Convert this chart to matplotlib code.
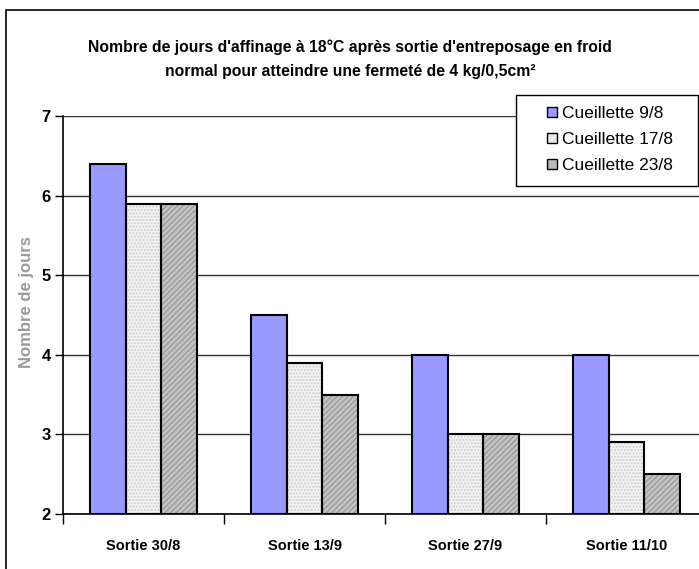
import matplotlib
matplotlib.use("Agg")
import matplotlib.pyplot as plt
import numpy as np
from matplotlib.patches import Rectangle
from matplotlib.lines import Line2D

plt.rcParams['font.family'] = ['Liberation Sans', 'DejaVu Sans']

categories = ["Sortie 30/8", "Sortie 13/9", "Sortie 27/9", "Sortie 11/10"]
series_names = ["Cueillette 9/8", "Cueillette 17/8", "Cueillette 23/8"]
cueillette_9_8 = [6.4, 4.5, 4.0, 4.0]
cueillette_17_8 = [5.9, 3.9, 3.0, 2.9]
cueillette_23_8 = [5.9, 3.5, 3.0, 2.5]
y_ticks = [2, 3, 4, 5, 6, 7]
title = "Nombre de jours d'affinage à 18°C après sortie d'entreposage en froid\nnormal pour atteindre une fermeté de 4 kg/0,5cm²"
ylabel = "Nombre de jours"

W, H = 699, 569
fig = plt.figure(figsize=(W / 100, H / 100), dpi=100)

# outer frame
fig.patches.append(Rectangle((6 / W, -0.1), 1.2, 1 - 10 / H + 0.1, transform=fig.transFigure,
                             fill=False, edgecolor='black', linewidth=1.2))

ax = fig.add_axes([63 / W, 1 - 514 / H, 644 / W, (514 - 116) / H])

x = np.arange(len(categories))
bw = 0.222
series = [cueillette_9_8, cueillette_17_8, cueillette_23_8]
faces = ['#9999ff', '#f2f2f2', '#c4c4c4']
legend_faces = ['#9999ff', '#e8e8e8', '#b8b8b8']
hatches = [None, '.....', '//////']
hatch_cols = ['#9999ff', '#cfcfcf', '#9a9a9a']
bottom = 2
handles = []
for i, (vals, fc, hc, hcol, lfc) in enumerate(zip(series, faces, hatches, hatch_cols, legend_faces)):
    pos = x + (i - 1) * bw
    h = np.array(vals) - bottom
    ax.bar(pos, h, bw, bottom=bottom, color=fc, hatch=hc, edgecolor=hcol, linewidth=0, zorder=3)
    ax.bar(pos, h, bw, bottom=bottom, fill=False, edgecolor='black', linewidth=1.5, zorder=4)
    handles.append(Line2D([], [], linestyle='none', marker='s', markersize=7.6,
                          markerfacecolor=lfc, markeredgecolor='black', markeredgewidth=1.0))

ax.set_ylim(2, 7)
ax.set_xlim(-0.5, 3.5)
ax.set_yticks(y_ticks)
ax.set_yticklabels([str(t) for t in y_ticks], fontweight='bold', fontsize=12)
ax.yaxis.grid(True, color='#333333', linewidth=1.0, zorder=0)
ax.set_axisbelow(True)
ax.tick_params(axis='y', length=6, width=1, direction='out', pad=3)

ax.set_xticks(x)
ax.set_xticklabels(categories, fontweight='bold', fontsize=10.5)
ax.set_xticks(np.arange(-0.5, 3.6, 1), minor=True)
ax.tick_params(axis='x', which='major', length=0, pad=18)
ax.tick_params(axis='x', which='minor', length=7, width=1, direction='out')

for s in ['top', 'right']:
    ax.spines[s].set_visible(False)
for s in ['left', 'bottom']:
    ax.spines[s].set_linewidth(1.2)

fig.text(27 / W, 1 - 302 / H, ylabel, rotation=90, ha='center', va='center',
         fontsize=12, fontweight='bold', color='#9a9a9a')

fig.text(350 / W, 1 - 59.5 / H, title, ha='center', va='center', fontsize=11.3,
         fontweight='bold', linespacing=1.75)

# legend frame
fig.patches.append(Rectangle((516 / W, 1 - 186 / H), (698 - 516) / W, (186 - 95) / H,
                             transform=fig.transFigure, facecolor='white',
                             edgecolor='black', linewidth=1.0, zorder=5))
leg = fig.legend(handles, series_names, loc='upper left',
                 bbox_to_anchor=(516 / W, 1 - 95 / H), bbox_transform=fig.transFigure,
                 fontsize=12.5, frameon=False, numpoints=1,
                 handlelength=2.84, handletextpad=-0.845,
                 labelspacing=0.62, borderpad=0.65, borderaxespad=0)
leg.set_zorder(6)

fig.savefig("out.png", dpi=100)
